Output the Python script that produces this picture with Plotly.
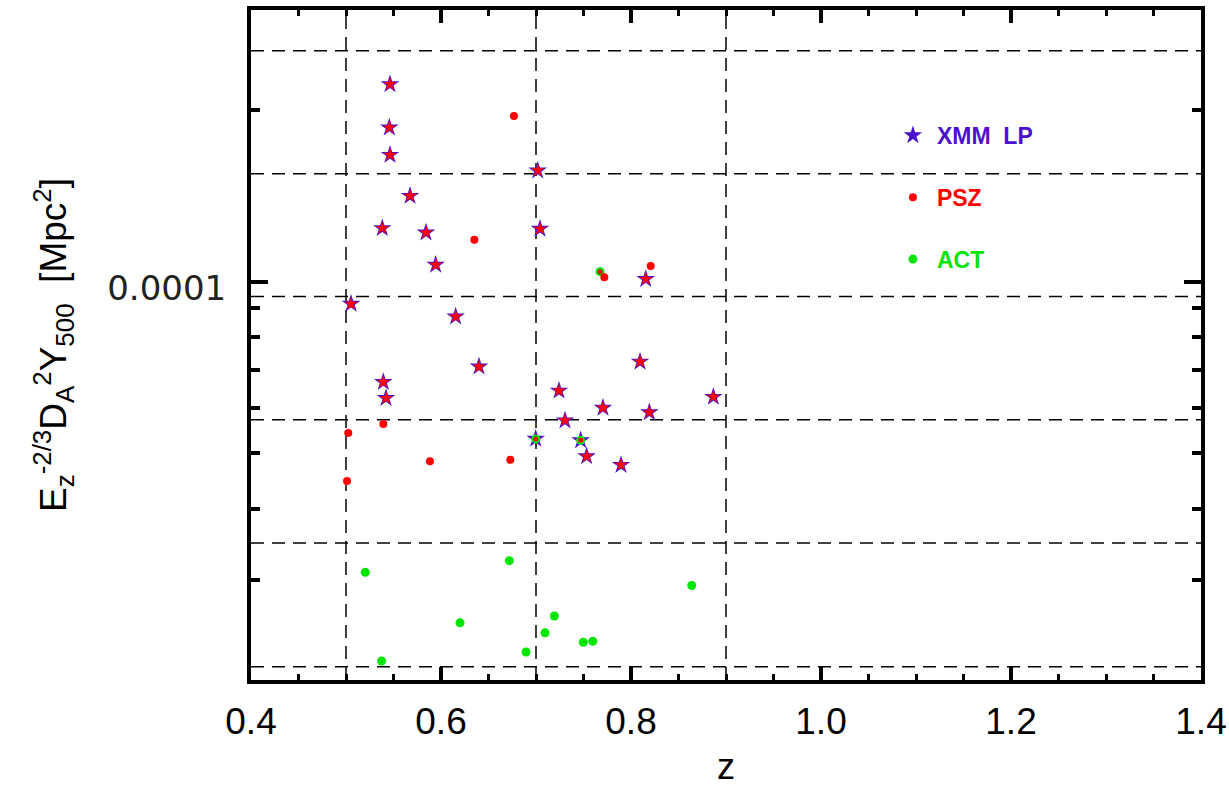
import plotly.graph_objects as go

# ---------------- data ----------------
xmm_z = [0.5463, 0.5456, 0.5463, 0.5674, 0.5382, 0.5842, 0.5944, 0.5053, 0.6154,
         0.7018, 0.7042, 0.8155, 0.6400, 0.5393, 0.5421, 0.7242, 0.7305, 0.7705,
         0.8095, 0.8193, 0.8867, 0.6997, 0.7470, 0.7533, 0.7895]
xmm_y = [2.222e-4, 1.865e-4, 1.670e-4, 1.415e-4, 1.242e-4, 1.220e-4, 1.071e-4, 9.15e-5, 8.69e-5,
         1.568e-4, 1.239e-4, 1.011e-4, 7.10e-5, 6.67e-5, 6.25e-5, 6.44e-5, 5.71e-5, 6.01e-5,
         7.24e-5, 5.90e-5, 6.28e-5, 5.30e-5, 5.27e-5, 4.94e-5, 4.77e-5]
# XMM clusters also measured by PSZ (red star overlay), excluding the two ACT ones
xmmpsz_z = [0.5463, 0.5456, 0.5463, 0.5674, 0.5382, 0.5842, 0.5944, 0.5053, 0.6154,
            0.7018, 0.7042, 0.8155, 0.6400, 0.5393, 0.5421, 0.7242, 0.7305, 0.7705,
            0.8095, 0.8193, 0.8867, 0.7533, 0.7895]
xmmpsz_y = [2.222e-4, 1.865e-4, 1.670e-4, 1.415e-4, 1.242e-4, 1.220e-4, 1.071e-4, 9.15e-5, 8.69e-5,
            1.568e-4, 1.239e-4, 1.011e-4, 7.10e-5, 6.67e-5, 6.25e-5, 6.44e-5, 5.71e-5, 6.01e-5,
            7.24e-5, 5.90e-5, 6.28e-5, 4.94e-5, 4.77e-5]
psz_z = [0.6768, 0.6351, 0.7719, 0.8207, 0.5024, 0.5393, 0.5011, 0.5884, 0.6730]
psz_y = [1.954e-4, 1.185e-4, 1.019e-4, 1.066e-4, 5.43e-5, 5.63e-5, 4.47e-5, 4.84e-5, 4.87e-5]
# PSZ values of clusters also in ACT (small red dots inside green)
pszact_z = [0.7674, 0.6997, 0.7470]
pszact_y = [1.042e-4, 5.30e-5, 5.27e-5]
act_z = [0.5203, 0.6719, 0.8639, 0.6200, 0.7193, 0.7095, 0.7498, 0.7597, 0.6895, 0.5375,
         0.7674, 0.6997, 0.7470]
act_y = [3.09e-5, 3.24e-5, 2.93e-5, 2.52e-5, 2.59e-5, 2.42e-5, 2.33e-5, 2.34e-5, 2.24e-5, 2.16e-5,
         1.042e-4, 5.30e-5, 5.27e-5]

grid_x = [0.5, 0.7, 0.9]
grid_y = [2.544e-4, 1.547e-4, 9.42e-5, 5.726e-5, 3.48e-5, 2.11e-5]

x_ticks = [0.4, 0.6, 0.8, 1.0, 1.2, 1.4]
x_ticktext = ["0.4", "0.6", "0.8", "1.0", "1.2", "1.4"]
y_ticks = [1e-4]
y_ticktext = ["0.0001"]
y_minor = [2e-5, 3e-5, 4e-5, 5e-5, 6e-5, 7e-5, 8e-5, 9e-5, 2e-4, 3e-4]
y_range_log = [-4.69897, -3.52288]   # 2e-5 .. 3e-4

BLUE = "#4a12cc"
RED = "#ff0000"
GREEN = "#00e600"

fig = go.Figure()
fig.add_trace(go.Scatter(x=xmm_z, y=xmm_y, mode="markers", legendrank=1, legendgroup="a",
                         name=f"<b><span style='color:{BLUE}'>XMM  LP</span></b>",
                         marker=dict(symbol="star", size=14, color=BLUE, line=dict(width=0))))
fig.add_trace(go.Scatter(x=xmmpsz_z, y=xmmpsz_y, mode="markers", showlegend=False,
                         marker=dict(symbol="star", size=10, color=RED, line=dict(width=0))))
fig.add_trace(go.Scatter(x=act_z, y=act_y, mode="markers", legendrank=3, legendgroup="c",
                         name=f"<b><span style='color:{GREEN}'>ACT</span></b>",
                         marker=dict(symbol="circle", size=9, color=GREEN, line=dict(width=0))))
fig.add_trace(go.Scatter(x=pszact_z, y=pszact_y, mode="markers", showlegend=False,
                         marker=dict(symbol="circle", size=5, color=RED, line=dict(width=0))))
fig.add_trace(go.Scatter(x=psz_z, y=psz_y, mode="markers", legendrank=2, legendgroup="b",
                         name=f"<b><span style='color:{RED}'>PSZ</span></b>",
                         marker=dict(symbol="circle", size=8, color=RED, line=dict(width=0))))

for gx in grid_x:
    fig.add_shape(type="line", xref="x", yref="paper", x0=gx, x1=gx, y0=0, y1=1,
                  line=dict(color="black", width=1.5, dash="13px,8px"), layer="below")
for gy in grid_y:
    fig.add_shape(type="line", xref="paper", yref="y", x0=0, x1=1, y0=gy, y1=gy,
                  line=dict(color="black", width=1.5, dash="13px,8px"), layer="below")

fig.update_layout(
    width=1229, height=787,
    margin=dict(l=251, r=28, t=10, b=107),
    paper_bgcolor="white", plot_bgcolor="white",
    showlegend=True,
    legend=dict(x=0.6715, y=0.845, xanchor="left", yanchor="top",
                traceorder="grouped", tracegroupgap=29, itemwidth=38,
                font=dict(family="Liberation Sans", size=23),
                bgcolor="rgba(0,0,0,0)"),
    xaxis=dict(range=[0.4, 1.4], tickmode="array", tickvals=x_ticks, ticktext=x_ticktext,
               ticks="inside", ticklen=13, tickwidth=4, tickcolor="black",
               showline=True, linewidth=4, linecolor="black", mirror="ticks",
               showgrid=False, zeroline=False, automargin=False,
               tickfont=dict(family="Liberation Sans", size=37, color="black"),
               ticklabelstandoff=6,
               minor=dict(dtick=0.05, tick0=0.4, ticks="inside", ticklen=6, tickwidth=3,
                          tickcolor="black", showgrid=False),
               title=dict(text="z", font=dict(family="Liberation Sans", size=36, color="black"),
                          standoff=33)),
    yaxis=dict(type="log", range=y_range_log,
               tickmode="array", tickvals=y_ticks, ticktext=y_ticktext,
               ticks="inside", ticklen=17, tickwidth=4, tickcolor="black",
               showline=True, linewidth=4, linecolor="black", mirror="ticks",
               showgrid=False, zeroline=False, automargin=False,
               tickfont=dict(family="DejaVu Sans", size=34, color="#222222"),
               ticklabelstandoff=14, ticklabelshift=6,
               minor=dict(tickmode="array", tickvals=y_minor, ticks="inside", ticklen=9,
                          tickwidth=4, tickcolor="black", showgrid=False),
               title=dict(text="E<sub>z</sub><sup>-2/3</sup>D<sub>A</sub><sup>2</sup>Y<sub>500</sub>  [Mpc<sup>2</sup>]",
                          font=dict(family="Liberation Sans", size=37, color="black"),
                          standoff=30)),
)

# remove the default 8px page margin so the figure fills the window exactly
fig.write_html("out.html", config={"displayModeBar": False},
               post_script="document.body.style.margin='0';document.body.style.overflow='hidden';")
